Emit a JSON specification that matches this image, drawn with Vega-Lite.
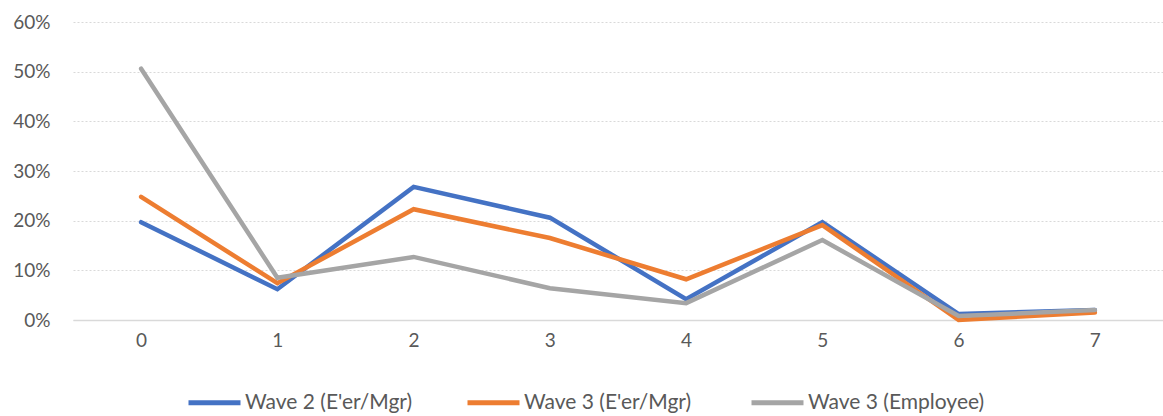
{
  "$schema": "https://vega.github.io/schema/vega-lite/v6.json",
  "width": 1090,
  "height": 298,
  "autosize": "none",
  "padding": {"left": 73, "top": 22, "right": 0, "bottom": 96},
  "background": "white",
  "config": {
    "view": {"stroke": null},
    "font": "Lato"
  },
  "data": {
    "values": [
      {"k": "0", "s": "Wave 2 (E'er/Mgr)", "v": 0.197},
      {"k": "1", "s": "Wave 2 (E'er/Mgr)", "v": 0.062},
      {"k": "2", "s": "Wave 2 (E'er/Mgr)", "v": 0.268},
      {"k": "3", "s": "Wave 2 (E'er/Mgr)", "v": 0.206},
      {"k": "4", "s": "Wave 2 (E'er/Mgr)", "v": 0.042},
      {"k": "5", "s": "Wave 2 (E'er/Mgr)", "v": 0.197},
      {"k": "6", "s": "Wave 2 (E'er/Mgr)", "v": 0.012},
      {"k": "7", "s": "Wave 2 (E'er/Mgr)", "v": 0.020},
      {"k": "0", "s": "Wave 3  (E'er/Mgr)", "v": 0.248},
      {"k": "1", "s": "Wave 3  (E'er/Mgr)", "v": 0.074},
      {"k": "2", "s": "Wave 3  (E'er/Mgr)", "v": 0.223},
      {"k": "3", "s": "Wave 3  (E'er/Mgr)", "v": 0.165},
      {"k": "4", "s": "Wave 3  (E'er/Mgr)", "v": 0.082},
      {"k": "5", "s": "Wave 3  (E'er/Mgr)", "v": 0.191},
      {"k": "6", "s": "Wave 3  (E'er/Mgr)", "v": 0.0},
      {"k": "7", "s": "Wave 3  (E'er/Mgr)", "v": 0.015},
      {"k": "0", "s": "Wave 3 (Employee)", "v": 0.506},
      {"k": "1", "s": "Wave 3 (Employee)", "v": 0.085},
      {"k": "2", "s": "Wave 3 (Employee)", "v": 0.127},
      {"k": "3", "s": "Wave 3 (Employee)", "v": 0.064},
      {"k": "4", "s": "Wave 3 (Employee)", "v": 0.034},
      {"k": "5", "s": "Wave 3 (Employee)", "v": 0.161},
      {"k": "6", "s": "Wave 3 (Employee)", "v": 0.008},
      {"k": "7", "s": "Wave 3 (Employee)", "v": 0.020}
    ]
  },
  "mark": {"type": "line", "strokeWidth": 4.5, "strokeCap": "round", "strokeJoin": "miter"},
  "encoding": {
    "x": {
      "field": "k",
      "type": "ordinal",
      "scale": {"type": "point", "padding": 0.5},
      "axis": {
        "title": null,
        "labelAngle": 0,
        "ticks": false,
        "labelPadding": 11,
        "labelFontSize": 19,
        "labelColor": "#595959",
        "domainColor": "#D9D9D9",
        "domainWidth": 1.5,
        "grid": false
      }
    },
    "y": {
      "field": "v",
      "type": "quantitative",
      "scale": {"domain": [0, 0.6], "nice": false},
      "axis": {
        "title": null,
        "values": [0, 0.1, 0.2, 0.3, 0.4, 0.5, 0.6],
        "format": ".0%",
        "ticks": false,
        "domain": false,
        "labelPadding": 23,
        "labelFontSize": 19,
        "labelColor": "#595959",
        "gridColor": "#D9D9D9",
        "gridDash": [2, 2],
        "gridWidth": 1.2
      }
    },
    "color": {
      "field": "s",
      "type": "nominal",
      "sort": ["Wave 2 (E'er/Mgr)", "Wave 3  (E'er/Mgr)", "Wave 3 (Employee)"],
      "scale": {
        "domain": ["Wave 2 (E'er/Mgr)", "Wave 3  (E'er/Mgr)", "Wave 3 (Employee)"],
        "range": ["#4472C4", "#ED7D31", "#A5A5A5"]
      },
      "legend": {
        "title": null,
        "orient": "none",
        "direction": "horizontal",
        "legendX": 113,
        "legendY": 352,
        "symbolType": "stroke",
        "symbolSize": 2704,
        "symbolStrokeWidth": 5,
        "labelFontSize": 21,
        "labelColor": "#595959",
        "labelOffset": 2,
        "columnPadding": 44,
        "labelLimit": 400
      }
    }
  }
}
